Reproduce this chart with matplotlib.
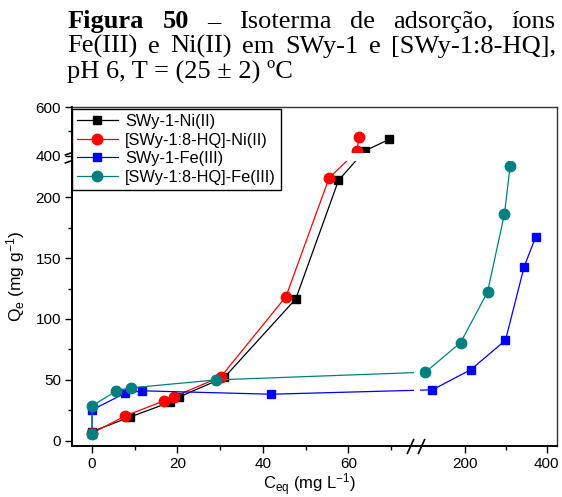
import numpy as np
import matplotlib
matplotlib.use("Agg")
import matplotlib.pyplot as plt
from matplotlib.ticker import FixedLocator, FuncFormatter
from matplotlib.path import Path
import matplotlib.transforms as mtransforms

plt.rcParams['font.family'] = ['Liberation Sans', 'DejaVu Sans']
plt.rcParams['mathtext.fontset'] = 'custom'
plt.rcParams['mathtext.rm'] = 'Liberation Sans'
plt.rcParams['mathtext.it'] = 'Liberation Sans:italic'

# ---- data -------------------------------------------------------------
ni_swy_x = [0, 8.8, 18.3, 20.3, 31.0, 47.7, 57.7, 63.8, 69.6]
ni_swy_y = [7.4, 19.2, 31.6, 35.7, 52.0, 116.5, 214.0, 419.0, 467.0]

ni_hq_x = [0, 7.6, 16.8, 19.3, 30.2, 45.4, 55.5, 62.0, 62.5]
ni_hq_y = [6.0, 20.0, 32.6, 36.2, 52.6, 118.4, 216.0, 417.8, 475.6]

fe_swy_x = [0, 0, 7.6, 11.7, 41.9, 121.6, 215.5, 299.5, 345.0, 373.0]
fe_swy_y = [5.0, 25.2, 38.7, 40.9, 38.1, 41.7, 58.4, 82.5, 143.0, 167.4]

fe_hq_x = [0, 0, 5.6, 9.0, 29.1, 104.6, 190.3, 255.8, 297.0, 310.8]
fe_hq_y = [5.5, 28.5, 40.6, 43.3, 49.9, 56.2, 80.6, 122.2, 186.4, 225.6]

series_labels = ["SWy-1-Ni(II)", "[SWy-1:8-HQ]-Ni(II)",
                 "SWy-1-Fe(III)", "[SWy-1:8-HQ]-Fe(III)"]

x_major = [0, 20, 40, 60, 200, 400]
x_minor = [10, 30, 50, 70, 300]
y_major = [0, 50, 100, 150, 200, 400, 600]
y_minor = [25, 75, 125, 175, 500]

title_line1 = [("Figura", "bold"), ("50", "bold"), ("–", "normal"),
               ("Isoterma", "normal"), ("de", "normal"),
               ("adsorção,", "normal"), ("íons", "normal")]
title_line2 = ["Fe(III)", "e", "Ni(II)", "em", "SWy-1", "e", "[SWy-1:8-HQ],"]
title_line3 = "pH 6, T = (25 ± 2) ºC"


# ---- piecewise (broken) axis scales ------------------------------------
def piecewise(d, p):
    d = np.asarray(d, float)
    p = np.asarray(p, float)

    def mk(a, b):
        def f(v):
            v = np.asarray(v, float)
            out = np.interp(v, a, b)
            lo_slope = (b[1] - b[0]) / (a[1] - a[0])
            hi_slope = (b[-1] - b[-2]) / (a[-1] - a[-2])
            out = np.where(v < a[0], b[0] + (v - a[0]) * lo_slope, out)
            out = np.where(v > a[-1], b[-1] + (v - a[-1]) * hi_slope, out)
            return out
        return f
    return mk(d, p), mk(p, d)


x_fwd, x_inv = piecewise([-4.7, 75.5, 85.0, 425.0], [72.0, 414.5, 417.4, 557.0])
y_fwd, y_inv = piecewise([-4.5, 232.0, 400.0, 600.0], [51.0, 339.0, 342.0, 390.3])

W, H = 562, 497
fig = plt.figure(figsize=(W / 100, H / 100), dpi=100)
ax = fig.add_axes([72 / W, (H - 446) / H, 485 / W, 338.7 / H])
ax.set_xscale('function', functions=(x_fwd, x_inv))
ax.set_yscale('function', functions=(y_fwd, y_inv))
ax.set_xlim(-4.7, 425)
ax.set_ylim(-4.5, 600)

lw = 0.9
ax.plot(ni_swy_x, ni_swy_y, color='black', lw=lw, marker='s', ms=6,
        mec='black', label=series_labels[0], zorder=3)
ax.plot(ni_hq_x, ni_hq_y, color='#ff0000', lw=lw, marker='o', ms=7.5,
        mec='#ff0000', label=series_labels[1], zorder=3)
ax.plot(fe_swy_x, fe_swy_y, color='#0000ff', lw=lw, marker='s', ms=6,
        mec='#0000ff', label=series_labels[2], zorder=3)
ax.plot(fe_hq_x, fe_hq_y, color='#008080', lw=lw, marker='o', ms=7.5,
        mec='#008080', label=series_labels[3], zorder=3)

# gaps where the lines pass through the axis breaks
ax.axvspan(75.3, 92.5, color='white', lw=0, zorder=3.05)
ax.axhspan(230.0, 409.0, color='white', lw=0, zorder=3.05)

# ticks
ax.xaxis.set_major_locator(FixedLocator(x_major))
ax.xaxis.set_minor_locator(FixedLocator(x_minor))
ax.yaxis.set_major_locator(FixedLocator(y_major))
ax.yaxis.set_minor_locator(FixedLocator(y_minor))
fmt = FuncFormatter(lambda v, pos: f"{v:g}")
ax.xaxis.set_major_formatter(fmt)
ax.yaxis.set_major_formatter(fmt)
ax.xaxis.set_minor_formatter(FuncFormatter(lambda v, p: ""))
ax.yaxis.set_minor_formatter(FuncFormatter(lambda v, p: ""))
ax.tick_params(axis='both', which='major', direction='out', length=5,
               width=1.0, labelsize=11, colors='black', pad=3)
ax.tick_params(axis='both', which='minor', direction='out', length=3,
               width=1.0)
ax.tick_params(top=False, right=False)

for side in ('left', 'bottom'):
    ax.spines[side].set_linewidth(1.4)
    ax.spines[side].set_zorder(4)
for side in ('top', 'right'):
    ax.spines[side].set_linewidth(1.0)
    ax.spines[side].set_color('#333333')
    ax.spines[side].set_zorder(4)

# break marks on the axes
slash = Path([(-0.45, -1.0), (0.45, 1.0)], [Path.MOVETO, Path.LINETO])
xb = mtransforms.blended_transform_factory(ax.transData, ax.transAxes)
for dx in (-4 / 72, 4 / 72):
    tr = xb + mtransforms.ScaledTranslation(dx, 0, fig.dpi_scale_trans)
    ax.plot([80.0], [0.0], transform=tr, marker=slash, ms=11, mew=1.2,
            color='black', clip_on=False, zorder=6)
yslash = Path([(-1.0, -0.35), (1.0, 0.35)], [Path.MOVETO, Path.LINETO])
yb = mtransforms.blended_transform_factory(ax.transAxes, ax.transData)
for dy in (-3 / 72, 3 / 72):
    tr = yb + mtransforms.ScaledTranslation(-0.03, dy, fig.dpi_scale_trans)
    ax.plot([0.0], [300.0], transform=tr, marker=yslash, ms=7, mew=1.2,
            color='black', clip_on=False, zorder=6)

# axis labels
ax.set_xlabel(r"C$_\mathrm{eq}$ (mg L$^\mathrm{-1}$)", fontsize=12)
ax.xaxis.set_label_coords((310 - 72) / 485, (446 - 472) / 338.7)
ax.set_ylabel(r"Q$_\mathrm{e}$ (mg g$^\mathrm{-1}$)", fontsize=12.5)
ax.yaxis.set_label_coords((27 - 72) / 485, 0.5)

leg = ax.legend(loc='upper left', bbox_to_anchor=(0.0, 0.995), fontsize=11.8,
                frameon=True, fancybox=False, edgecolor='black',
                framealpha=1.0, borderpad=0.3, labelspacing=0.22,
                handlelength=2.5, handletextpad=0.45, borderaxespad=0.0)
leg.get_frame().set_linewidth(1.0)
leg.set_zorder(7)

# caption above the chart, justified like a printed figure caption
serif = ['Liberation Serif', 'DejaVu Serif']
fs = 19
fig.canvas.draw()
renderer = fig.canvas.get_renderer()


def justified(words, x0, x1, base_px):
    texts = []
    for w in words:
        word, weight = (w if isinstance(w, tuple) else (w, 'normal'))
        t = fig.text(0, 1 - base_px / H, word, family=serif, fontsize=fs,
                     weight=weight, va='baseline', ha='left')
        texts.append(t)
    widths = [t.get_window_extent(renderer).width for t in texts]
    gap = (x1 - x0 - sum(widths)) / (len(texts) - 1)
    x = x0
    for t, w in zip(texts, widths):
        t.set_x(x / W)
        x += w + gap


justified(title_line1, 68, 556, 28)
justified(title_line2, 67, 556, 53)
fig.text(67 / W, 1 - 78 / H, title_line3, family=serif, fontsize=fs,
         va='baseline', ha='left')

fig.savefig("out.png", dpi=100)
